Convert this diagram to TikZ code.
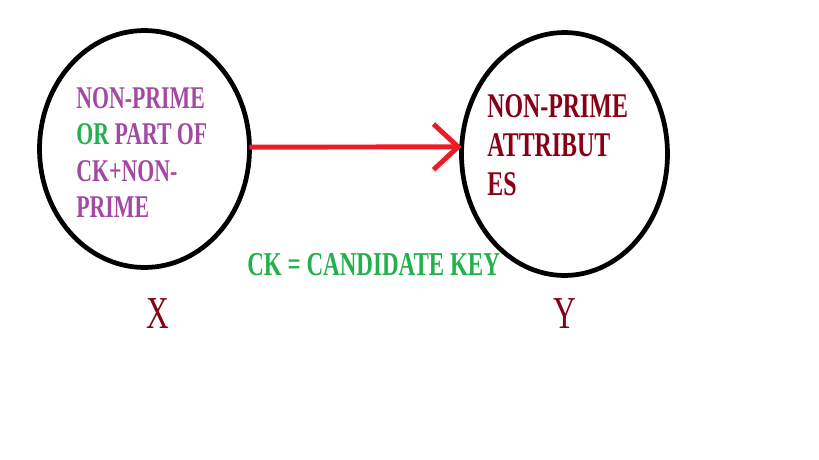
\documentclass[tikz,border=0pt]{standalone}
\usepackage{fontspec}
\setmainfont[FakeStretch=0.69]{Liberation Serif}
\usetikzlibrary{arrows.meta,shapes.geometric}

\definecolor{pinkpurple}{HTML}{A349A4}
\definecolor{leafgreen}{HTML}{22B14C}
\definecolor{darkmaroon}{HTML}{880015}
\definecolor{arrowred}{HTML}{ED1C24}

\tikzset{
  setbox/.style={draw,ellipse,line width=2.7pt,inner sep=0pt,outer sep=0pt},
  settext/.style={anchor=north west,align=left,inner sep=0pt,font=\fontsize{18}{20.8}\selectfont\bfseries},
  varname/.style={text=darkmaroon,font=\fontsize{26}{28}\selectfont}
}

\begin{document}
\begin{tikzpicture}[x=0.02cm,y=-0.02cm,>=Stealth]
            \useasboundingbox (0,0) rectangle (819,460);
            \node [setbox,minimum width=4.2cm,minimum height=4.74cm] (xset) at (144.5,149) {};
            \node [setbox,minimum width=4.12cm,minimum height=4.86cm] (yset) at (564.5,154) {};
            \node [settext,text=pinkpurple] (xtext) at (76,87)
                {NON-PRIME\\ \textcolor{leafgreen}{OR} PART OF\\ CK+NON-\\ PRIME};
            \node [settext,text=darkmaroon,font=\fontsize{19.7}{22.4}\selectfont\bfseries] (ytext) at (487,94)
                {NON-PRIME\\ ATTRIBUT\\ ES};
            \draw [arrowred,line width=2.8pt,-{Straight Barb[length=14pt,width=26pt]}] (xset.1) -- (yset.176);
            \node [text=leafgreen,font=\fontsize{19}{22}\selectfont\bfseries,anchor=base west,inner sep=0pt] (cknote) at (247,275) {CK = CANDIDATE KEY};
            \node [varname,anchor=base,inner sep=0pt] (xlabel) at (158,328) {X};
            \node [varname,anchor=base,inner sep=0pt] (ylabel) at (565,328) {Y};
\end{tikzpicture}
\end{document}
